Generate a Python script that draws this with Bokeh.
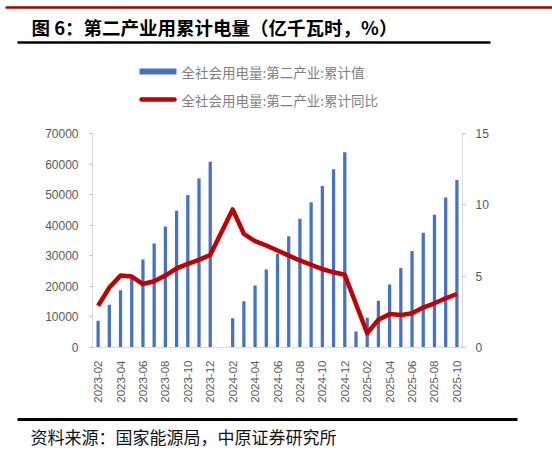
import math
from bokeh.plotting import figure
from bokeh.models import Range1d, LinearAxis, FixedTicker, NumeralTickFormatter
from bokeh.layouts import column
from bokeh.embed import file_html
from bokeh.resources import INLINE
from bokeh.core.properties import value

# ---------------- data ----------------
months = [
    "2023-02", "2023-03", "2023-04", "2023-05", "2023-06", "2023-07", "2023-08",
    "2023-09", "2023-10", "2023-11", "2023-12", "2024-01", "2024-02", "2024-03",
    "2024-04", "2024-05", "2024-06", "2024-07", "2024-08", "2024-09", "2024-10",
    "2024-11", "2024-12", "2025-01", "2025-02", "2025-03", "2025-04", "2025-05",
    "2025-06", "2025-07", "2025-08", "2025-09", "2025-10",
]
# 全社会用电量:第二产业:累计值 (亿千瓦时); None = no data
cum_value = [
    8750, 14000, 18700, 23700, 28800, 34000, 39600, 44700, 49900, 55300, 60800,
    None,
    9600, 15100, 20300, 25500, 30700, 36400, 42100, 47500, 52800, 58300, 63900,
    5250,
    9700, 15300, 20600, 26000, 31600, 37500, 43400, 49100, 54800,
]
# 全社会用电量:第二产业:累计同比 (%)
cum_yoy = [
    2.93, 4.2, 5.04, 4.97, 4.45, 4.64, 5.04, 5.55, 5.86, 6.14, 6.49,
    None,
    9.68, 7.97, 7.45, 7.15, 6.8, 6.44, 6.1, 5.8, 5.5, 5.27, 5.1,
    None,
    1.0, 1.95, 2.34, 2.27, 2.4, 2.8, 3.1, 3.45, 3.75,
]
left_ticks = [0, 10000, 20000, 30000, 40000, 50000, 60000, 70000]
right_ticks = [0, 5, 10, 15]

title_text = "图 6：第二产业用累计电量（亿千瓦时，%）"
legend_bar = "全社会用电量:第二产业:累计值"
legend_line = "全社会用电量:第二产业:累计同比"
source_text = "资料来源：国家能源局，中原证券研究所"

W = 552
CJK = "Noto Sans CJK SC"
NUM = "Liberation Sans"
GRAY = "#595959"
LEGEND_GRAY = "#808080"
AXIS = "#d9d9d9"
BLUE = "#4472C4"
RED = "#C00000"


def blank(h):
    f = figure(width=W, height=h, x_range=Range1d(0, W), y_range=Range1d(h, 0),
               x_axis_type=None, y_axis_type=None, output_backend="svg",
               toolbar_location=None, min_border=0, frame_align=False)
    f.grid.visible = False
    f.outline_line_color = None
    return f


def txt(f, x, y, s, size, color, bold=False):
    f.text(x=[x], y=[y], text=[s], text_font=value(CJK), text_font_size=size,
           text_font_style="bold" if bold else "normal", text_baseline="middle",
           text_align="left", text_color=color)


# ---------------- header (page y 0..117) ----------------
HH = 117
hdr = blank(HH)
hdr.segment(x0=[5], y0=[7], x1=[W], y1=[7], line_color="#A00000", line_width=2.5)
txt(hdr, 31, 26, title_text, "18.5px", "#000000", bold=True)
hdr.segment(x0=[17], y0=[42], x1=[490], y1=[42], line_color="#000000", line_width=2.5)
hdr.quad(left=[139], right=[176], top=[68], bottom=[74], fill_color=BLUE, line_color=None)
txt(hdr, 181, 71, legend_bar, "13.5px", LEGEND_GRAY)
hdr.segment(x0=[141], y0=[99], x1=[174], y1=[99], line_color=RED, line_width=4.5, line_cap="round")
txt(hdr, 181, 99, legend_line, "13.5px", LEGEND_GRAY)

# ---------------- chart (page y 117..410) ----------------
bx = [i for i, v in enumerate(cum_value) if v is not None]
by = [v for v in cum_value if v is not None]
lx = [i for i, v in enumerate(cum_yoy) if v is not None]
ly = [v for v in cum_yoy if v is not None]

p = figure(width=W, height=293, x_range=Range1d(-0.5, len(months) - 0.5),
           y_range=Range1d(0, 70000), output_backend="svg", toolbar_location=None,
           min_border_left=92, min_border_right=90, min_border_top=16, min_border_bottom=63,
           frame_align=False)
p.extra_y_ranges = {"pct": Range1d(0, 15)}
p.grid.visible = False
p.outline_line_color = None

p.vbar(x=bx, top=by, width=0.29, fill_color=BLUE, line_color=None)
p.line(x=lx, y=ly, y_range_name="pct", line_color=RED, line_width=4.5, line_join="round")

xa = p.xaxis[0]
xa.ticker = FixedTicker(ticks=list(range(0, len(months), 2)))
xa.major_label_overrides = {i: months[i] for i in range(0, len(months), 2)}
xa.major_label_orientation = math.pi / 2
xa.major_tick_line_color = None
xa.minor_tick_line_color = None
xa.axis_line_color = AXIS
xa.major_label_text_color = GRAY
xa.major_label_text_font = NUM
xa.major_label_text_font_size = "11.5px"
xa.major_label_standoff = 7

ya = p.yaxis[0]
ya.ticker = FixedTicker(ticks=left_ticks)
ya.formatter = NumeralTickFormatter(format="0")
ya.minor_tick_line_color = None
ya.major_tick_in = 0
ya.major_tick_out = 3
ya.major_tick_line_color = "#bfbfbf"
ya.axis_line_color = AXIS
ya.major_label_text_color = GRAY
ya.major_label_text_font = NUM
ya.major_label_text_font_size = "12px"
ya.major_label_standoff = 11

ra = LinearAxis(y_range_name="pct", ticker=FixedTicker(ticks=right_ticks))
ra.minor_tick_line_color = None
ra.major_tick_in = 0
ra.major_tick_out = 3
ra.major_tick_line_color = "#bfbfbf"
ra.axis_line_color = AXIS
ra.major_label_text_color = GRAY
ra.major_label_text_font = NUM
ra.major_label_text_font_size = "12px"
ra.major_label_standoff = 10
p.add_layout(ra, "right")

# ---------------- footer (page y 410..451) ----------------
FH = 41
ftr = blank(FH)
ftr.segment(x0=[17], y0=[9], x1=[517], y1=[9], line_color="#000000", line_width=3)
txt(ftr, 30, 26, source_text, "17px", "#111111")

layout = column(hdr, p, ftr, spacing=0)
open("out.html", "w").write(file_html(layout, INLINE))
